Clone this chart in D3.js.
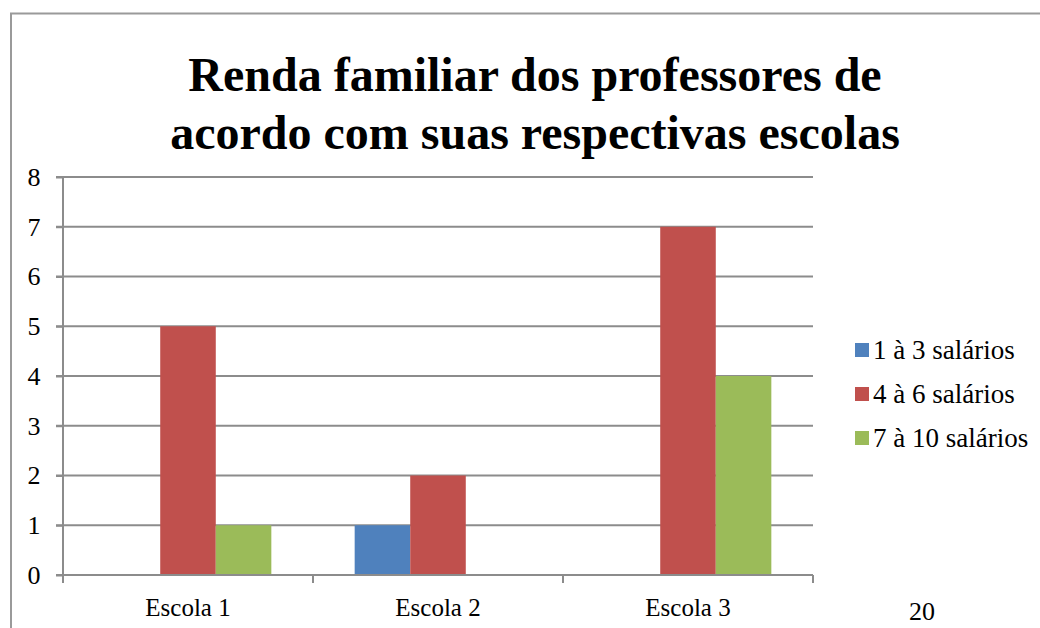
<!DOCTYPE html>
<html>
  <body style="margin:0;background:#fff">
    <script src="https://cdn.jsdelivr.net/npm/d3@7"></script>
    <script>
// data
var escolas = ["Escola 1", "Escola 2", "Escola 3"];
var series = ["1 à 3 salários", "4 à 6 salários", "7 à 10 salários"];
var cores = ["#4F81BD", "#C0504D", "#9BBB59"];
var faixa1a3 = [0, 1, 0];
var faixa4a6 = [5, 2, 7];
var faixa7a10 = [1, 0, 4];
var yTicks = [0, 1, 2, 3, 4, 5, 6, 7, 8];
var titulo = ["Renda familiar dos professores de", "acordo com suas respectivas escolas"];

var width = 1040, height = 628;
var font = "'Liberation Serif', 'Times New Roman', serif";

var valores = [faixa1a3, faixa4a6, faixa7a10];

var svg = d3.select("body").append("svg")
  .attr("width", width)
  .attr("height", height);

// outer frame (runs off the page on right/bottom)
svg.append("path")
  .attr("d", "M11,640 V13.5 H1050")
  .attr("fill", "none")
  .attr("stroke", "#9a9a9a")
  .attr("stroke-width", 2);

// title
svg.append("g").selectAll("text")
  .data(titulo)
  .join("text")
  .attr("x", 535)
  .attr("y", (d, i) => 91 + i * 58)
  .attr("text-anchor", "middle")
  .attr("font-family", font)
  .attr("font-weight", "bold")
  .attr("font-size", 48)
  .text(d => d);

var plotL = 63, plotR = 813, plotT = 177, plotB = 575;

var x0 = d3.scaleBand().domain(escolas).range([plotL, plotR]).paddingInner(0).paddingOuter(0);
var x1 = d3.scaleBand().domain(series).range([0, x0.bandwidth()]).paddingInner(0).paddingOuter(0.75);
var y = d3.scaleLinear().domain([0, 8]).range([plotB, plotT]);

// gridlines
svg.append("g").selectAll("line")
  .data(yTicks.slice(1))
  .join("line")
  .attr("x1", plotL - 7).attr("x2", plotR)
  .attr("y1", d => y(d)).attr("y2", d => y(d))
  .attr("stroke", "#8c8c8c")
  .attr("stroke-width", 2);

// bars
escolas.forEach(function (e, i) {
  svg.append("g").selectAll("rect")
    .data(series.map((s, j) => ({ s: s, v: valores[j][i], c: cores[j] })).filter(d => d.v > 0))
    .join("rect")
    .attr("x", d => x0(e) + x1(d.s))
    .attr("y", d => y(d.v))
    .attr("width", x1.bandwidth())
    .attr("height", d => y(0) - y(d.v))
    .attr("fill", d => d.c);
});

// y axis
var yAxis = svg.append("g")
  .attr("transform", "translate(" + plotL + ",0)")
  .call(d3.axisLeft(y).tickValues(yTicks).tickSize(7).tickPadding(16).tickFormat(d3.format("d")));
yAxis.select(".domain").attr("stroke", "#8c8c8c").attr("stroke-width", 2).attr("d", "M0," + plotT + "V" + (plotB + 8));
yAxis.selectAll(".tick line").attr("stroke", "#8c8c8c").attr("stroke-width", 2);
yAxis.selectAll(".tick text")
  .attr("font-family", font).attr("font-size", 26).attr("fill", "#000")
  .attr("text-anchor", "middle").attr("dx", "-6");

// x axis
var xAxis = svg.append("g")
  .attr("transform", "translate(0," + plotB + ")")
  .call(d3.axisBottom(x0).tickSize(0).tickPadding(23));
xAxis.select(".domain").remove();
xAxis.selectAll(".tick text")
  .attr("font-family", font).attr("font-size", 25).attr("fill", "#000");
svg.append("line")
  .attr("x1", plotL - 7).attr("x2", plotR)
  .attr("y1", plotB).attr("y2", plotB)
  .attr("stroke", "#8c8c8c").attr("stroke-width", 2);
svg.append("g").selectAll("line")
  .data(escolas.map(e => x0(e)).concat([plotR]))
  .join("line")
  .attr("x1", d => d).attr("x2", d => d)
  .attr("y1", plotB).attr("y2", plotB + 8)
  .attr("stroke", "#8c8c8c").attr("stroke-width", 2);

// legend
var legend = svg.append("g").selectAll("g")
  .data(series)
  .join("g")
  .attr("transform", (d, i) => "translate(855," + (350 + i * 44) + ")");
legend.append("rect")
  .attr("x", 0).attr("y", -7)
  .attr("width", 14).attr("height", 14)
  .attr("fill", (d, i) => cores[i]);
legend.append("text")
  .attr("x", 18).attr("y", 9)
  .attr("font-family", font).attr("font-size", 27)
  .text(d => d);

// page number
svg.append("text")
  .attr("x", 922).attr("y", 620)
  .attr("text-anchor", "middle")
  .attr("font-family", font).attr("font-size", 26)
  .text("20");
    </script>
  </body>
</html>
